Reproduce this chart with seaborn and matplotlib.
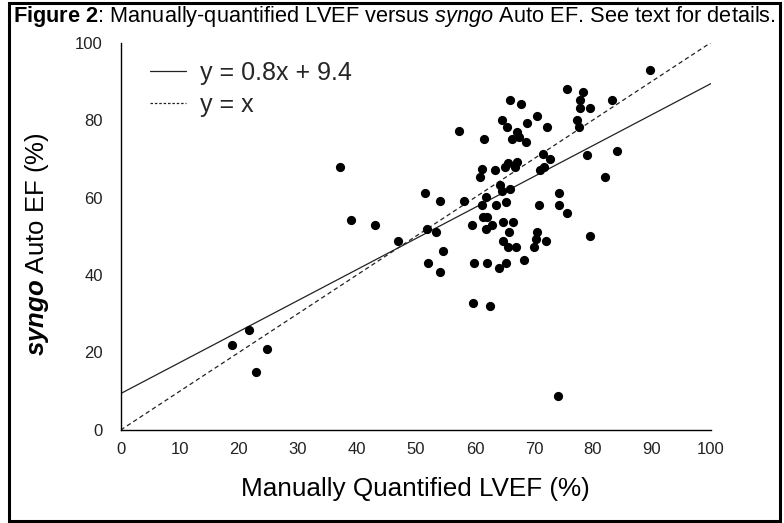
import matplotlib
matplotlib.use("Agg")
import matplotlib.pyplot as plt
import seaborn as sns
import numpy as np
import pandas as pd
from matplotlib.lines import Line2D
from matplotlib.patches import Rectangle

# ---- data ----
manual_lvef = [89.7, 75.6, 78.3, 77.8, 83.2, 77.8, 79.5, 77.3, 77.6, 72.2,
               70.5, 68.8, 65.9, 67.8, 64.6, 65.4, 67.1, 66.3, 67.5, 68.6,
               61.5, 57.3, 84.1, 79.0, 71.5, 72.7, 65.6, 67.1, 65.1, 66.8,
               61.2, 63.4, 60.8, 71.0, 71.7, 82.0, 64.2, 65.9, 64.6, 74.2,
               61.9, 58.1, 51.5, 54.1, 61.2, 63.6, 65.3, 70.8, 74.2, 75.6,
               61.4, 62.0, 59.5, 61.9, 62.9, 64.7, 66.4, 65.8, 70.5, 70.3,
               72.0, 64.7, 65.6, 66.9, 70.0, 79.5, 54.6, 59.8, 62.0, 64.1,
               65.3, 68.3, 54.1, 52.1, 59.7, 62.5, 74.1, 39.0, 43.1, 46.9,
               51.9, 53.4, 37.1, 21.7, 18.8, 24.7, 22.9]
auto_ef = [93.0, 87.9, 87.2, 85.1, 85.1, 83.0, 83.0, 80.1, 78.1, 78.1,
           81.0, 79.2, 85.1, 84.1, 80.1, 78.1, 76.9, 75.2, 75.5, 74.2,
           75.2, 77.2, 71.9, 70.9, 71.1, 70.0, 68.8, 69.1, 67.8, 68.0,
           67.3, 67.0, 65.2, 67.0, 68.0, 65.2, 63.1, 62.1, 61.6, 61.1,
           60.2, 59.0, 61.1, 59.0, 58.0, 58.0, 58.8, 58.0, 58.0, 55.9,
           55.0, 55.0, 53.0, 52.0, 53.0, 53.8, 53.8, 51.0, 51.0, 49.2,
           48.9, 48.9, 47.1, 47.1, 47.1, 50.0, 46.1, 43.0, 43.0, 41.9,
           43.0, 44.0, 40.9, 43.0, 32.9, 31.9, 8.9, 54.1, 53.0, 48.9,
           52.0, 51.0, 68.0, 25.9, 22.0, 21.0, 14.9]
fit_slope = 0.8
fit_intercept = 9.4
line_x = [0, 100]
axis_ticks = [0, 10, 20, 30, 40, 50, 60, 70, 80, 90, 100]
y_ticks = [0, 20, 40, 60, 80, 100]
legend_labels = ["y = 0.8x + 9.4", "y = x"]

sns.set_theme(style="white")
plt.rcParams['font.family'] = ['Liberation Sans', 'DejaVu Sans']
plt.rcParams['mathtext.fontset'] = 'custom'
plt.rcParams['mathtext.rm'] = 'Liberation Sans'
plt.rcParams['mathtext.it'] = 'Liberation Sans:italic'
plt.rcParams['mathtext.bf'] = 'Liberation Sans:bold'
plt.rcParams['mathtext.bfit'] = 'Liberation Sans:italic:bold'

fig = plt.figure(figsize=(7.84, 5.23), dpi=100)
W, H = 784, 523
ax_l, ax_r, ax_t, ax_b = 120.7, 711, 42.5, 430
ax = fig.add_axes([ax_l / W, 1 - ax_b / H, (ax_r - ax_l) / W, (ax_b - ax_t) / H])

df = pd.DataFrame({"manual": manual_lvef, "auto": auto_ef})
sns.scatterplot(data=df, x="manual", y="auto", ax=ax, color="black", s=44,
                marker="o", edgecolor="black", linewidth=0, zorder=3)

lx = np.array(line_x, dtype=float)
lines_df = pd.DataFrame({"x": lx, "fit": fit_slope * lx + fit_intercept, "ident": lx})
sns.lineplot(data=lines_df, x="x", y="fit", ax=ax, color="#222222", lw=0.9)
sns.lineplot(data=lines_df, x="x", y="ident", ax=ax, color="#222222", lw=0.9,
             dashes=False, linestyle=(0, (3.5, 2.5)))

ax.set_xlim(0, 100)
ax.set_ylim(0, 100)
ax.set_xticks(axis_ticks)
ax.set_yticks(y_ticks)
for s in ["top", "right"]:
    ax.spines[s].set_visible(False)
for s in ["left", "bottom"]:
    ax.spines[s].set_color("black")
    ax.spines[s].set_linewidth(1.0)
ax.tick_params(axis="both", direction="in", length=5.5, width=1.0, color="black",
               labelsize=12, labelcolor="#222222")
ax.tick_params(axis="x", pad=9)
ax.tick_params(axis="y", pad=13)

ax.set_xlabel("Manually Quantified LVEF (%)", fontsize=18.8, color="black")
ax.xaxis.set_label_coords(0.5, (ax_b - 489) / (ax_b - ax_t))
ax.xaxis.label.set_va("center")
ax.set_ylabel(r"$\mathbfit{syngo}$ Auto EF (%)", fontsize=18.5, color="black")
ax.yaxis.set_label_coords((37 - ax_l) / (ax_r - ax_l), (ax_b - 244) / (ax_b - ax_t))
ax.yaxis.label.set_va("center")

handles = [Line2D([], [], color="#222222", lw=0.9),
           Line2D([], [], color="#222222", lw=0.9, linestyle=(0, (2, 1.5)))]
ax.legend(handles, legend_labels, loc="upper left",
          bbox_to_anchor=((150 - ax_l) / (ax_r - ax_l), (ax_b - 61) / (ax_b - ax_t)),
          frameon=False, fontsize=18, handlelength=1.45, handletextpad=0.55,
          labelspacing=0.3, borderpad=0, borderaxespad=0)

fig.text(13 / W, 1 - 22 / H,
         r"$\mathbf{Figure\ 2}$: Manually-quantified LVEF versus $\mathit{syngo}$ Auto EF. See text for details.",
         fontsize=15.7, ha="left", va="baseline", color="black")

fig.patches.append(Rectangle((9 / W, 2.5 / H), (780 - 9) / W, (520 - 2.5) / H,
                             transform=fig.transFigure, fill=False,
                             edgecolor="black", linewidth=2.2))

fig.savefig("out.png", dpi=100)
